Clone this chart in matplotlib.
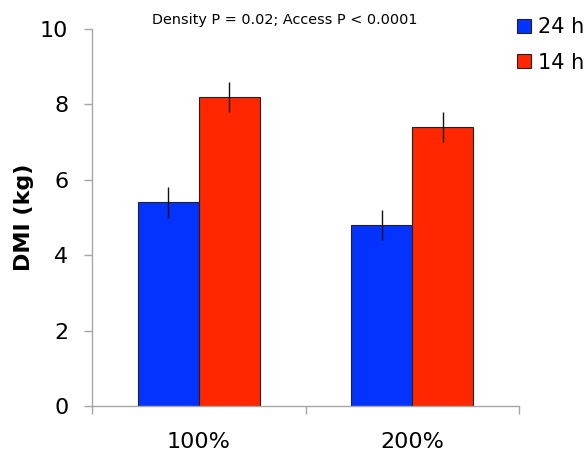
import matplotlib
matplotlib.use("Agg")
import matplotlib.pyplot as plt
from matplotlib.patches import Patch
import numpy as np

categories = ["100%", "200%"]
series_names = ["24 h", "14 h"]
vals_24h = [5.4, 4.8]
vals_14h = [8.2, 7.4]
err_24h = [0.4, 0.4]
err_14h = [0.4, 0.4]
yticks = [0, 2, 4, 6, 8, 10]
title_text = "Density P = 0.02; Access P < 0.0001"
ylabel = "DMI (kg)"

c_blue = "#0433FF"
c_red = "#FF2600"
spine_c = "#A6A6A6"

plt.rcParams['font.family'] = ['DejaVu Sans']
fig = plt.figure(figsize=(5.88, 4.58), dpi=100)
ax = fig.add_axes([92/588, 1-406/458, (519-92)/588, (406-29)/458])

x = np.arange(len(categories))
w = 0.286
ax.bar(x - w/2, vals_24h, w, color=c_blue, edgecolor="#222222", linewidth=0.8, zorder=2)
ax.bar(x + w/2, vals_14h, w, color=c_red, edgecolor="#222222", linewidth=0.8, zorder=2)
ax.errorbar(x - w/2, vals_24h, yerr=err_24h, fmt="none", ecolor="#111111", elinewidth=1.0, capsize=0, zorder=3)
ax.errorbar(x + w/2, vals_14h, yerr=err_14h, fmt="none", ecolor="#111111", elinewidth=1.0, capsize=0, zorder=3)

ax.set_xlim(-0.5, len(categories) - 0.5)
ax.set_ylim(0, 10)
ax.set_yticks(yticks)
ax.tick_params(axis='y', length=6, width=1, color=spine_c, pad=11, labelsize=16)
ax.set_xticks([-0.5, 0.5, 1.5])
ax.set_xticklabels([])
ax.tick_params(axis='x', which='major', length=6, width=1, color=spine_c)
ax.set_xticks(x, minor=True)
ax.set_xticklabels(categories, minor=True)
ax.tick_params(axis='x', which='minor', length=0, pad=19, labelsize=16)

for s in ["top", "right"]:
    ax.spines[s].set_visible(False)
for s in ["left", "bottom"]:
    ax.spines[s].set_color(spine_c)
    ax.spines[s].set_linewidth(1)

ax.set_ylabel(ylabel, fontsize=16, fontweight="bold", labelpad=4)

fig.text(285/588, 1-20/458, title_text, ha="center", va="center", fontsize=10.4)

handles = [Patch(facecolor=c_blue, edgecolor="#222222", linewidth=0.8),
           Patch(facecolor=c_red, edgecolor="#222222", linewidth=0.8)]
fig.legend(handles, series_names, loc="upper left", bbox_to_anchor=(517/588, 1-17/458),
           frameon=False, fontsize=15, handlelength=0.65, handleheight=0.65,
           handletextpad=0.35, labelspacing=0.75, borderaxespad=0, borderpad=0)

fig.savefig("out.png", dpi=100)
